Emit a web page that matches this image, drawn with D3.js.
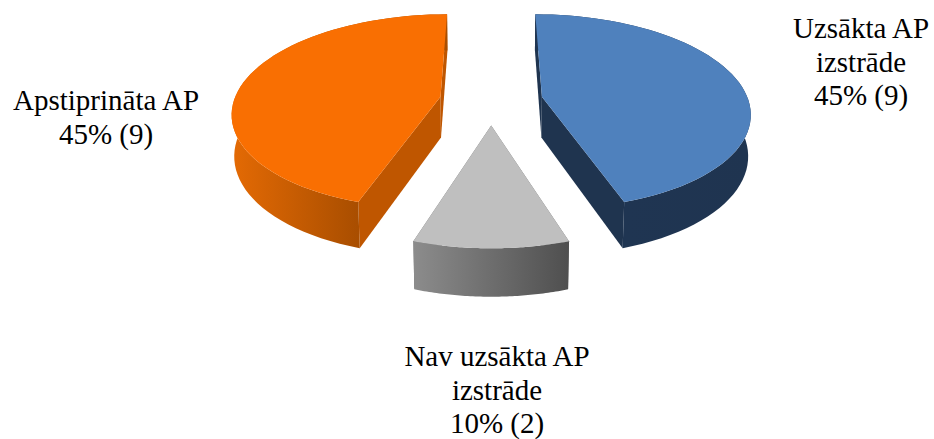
<!DOCTYPE html>
<html>
<head>
<meta charset="utf-8">
<script src="https://cdnjs.cloudflare.com/ajax/libs/d3/7.8.5/d3.min.js"></script>
<style>
  html, body { margin: 0; background: #fff; }
  text { font-family: "Liberation Serif", serif; font-size: 29px; fill: #000; }
</style>
</head>
<body>
<div id="vis"></div>
<script>
const FRAME_WIDTH = 934;
const FRAME_HEIGHT = 439;

// data, clockwise from the top of the pie
const categories = [["Uzsākta AP", "izstrāde"], ["Nav uzsākta AP", "izstrāde"], ["Apstiprināta AP"]];
const values = [9, 2, 9];
const topColors = ["#4f81bd", "#bfbfbf", "#f96f02"];
const cutColors = ["#1f344f", "#6e6e6e", "#bf5600"];
const rimLeft = ["#1f3552", "#8c8c8c", "#e46a04"];
const rimRight = ["#1f3450", "#4f4f4f", "#a94e00"];
const labelX = [861, 497, 106];
const labelY = [38, 366, 110];

// camera: pie radius is 1 in disc units, the perspective divides by w
const CX = 491.2, CY = 100.6;
const SCALE_X = 206.5, SCALE_Y = 96;
const TILT = 0.15;      // near side is larger
const DEPTH = 41.3;     // height of the wall
const DEPTH_W = 0.01;   // bottom face is a bit further away
const EXPLODE = 0.25;

const project = (u, v, z) => {
  const w = 1 - TILT * v + DEPTH_W * z;
  return [CX + SCALE_X * u / w, CY + (SCALE_Y * v + DEPTH * z) / w];
};

const FRAME = d3.select("#vis")
                .append("svg")
                  .attr("width", FRAME_WIDTH)
                  .attr("height", FRAME_HEIGHT);

const defs = FRAME.append("defs");
const line = d3.line();
const arcs = d3.pie().sort(null).startAngle(0).endAngle(2 * Math.PI)(values);

arcs.forEach((d, i) => {
  const mid = (d.startAngle + d.endAngle) / 2;
  const ox = EXPLODE * Math.sin(mid);
  const oy = -EXPLODE * Math.cos(mid);
  const angles = d3.range(0, 61).map((k) => d.startAngle + (d.endAngle - d.startAngle) * k / 60);

  const rim = (z) => angles.map((a) => project(ox + Math.sin(a), oy - Math.cos(a), z));
  const apex = (z) => project(ox, oy, z);
  const topRim = rim(0);
  const botRim = rim(1);

  const xs = topRim.map((p) => p[0]);
  const visible = topRim.filter((p, k) => Math.cos(angles[k]) < 0.1).map((p) => p[0]);
  const grad = defs.append("linearGradient")
                    .attr("id", "rim" + i)
                    .attr("gradientUnits", "userSpaceOnUse")
                    .attr("x1", d3.min(visible.length ? visible : xs))
                    .attr("x2", d3.max(visible.length ? visible : xs))
                    .attr("y1", 0).attr("y2", 0);
  grad.append("stop").attr("offset", 0).attr("stop-color", rimLeft[i]);
  grad.append("stop").attr("offset", 1).attr("stop-color", rimRight[i]);

  const g = FRAME.append("g").attr("class", "slice");

  // the two cut walls
  [0, angles.length - 1].forEach((k) => {
    g.append("path")
      .attr("d", line([apex(0), topRim[k], botRim[k], apex(1)]) + "Z")
      .attr("fill", cutColors[i]);
  });
  // outer wall
  g.append("path")
    .attr("d", line(topRim.concat(botRim.slice().reverse())) + "Z")
    .attr("fill", "url(#rim" + i + ")");
  // top face
  g.append("path")
    .attr("d", line([apex(0)].concat(topRim)) + "Z")
    .attr("fill", topColors[i]);
});

const total = d3.sum(values);
const pct = d3.format(".0%");

// labels
categories.forEach((lines, i) => {
  const t = FRAME.append("text")
                  .attr("text-anchor", "middle")
                  .attr("x", labelX[i])
                  .attr("y", labelY[i]);
  lines.concat([pct(values[i] / total) + " (" + values[i] + ")"]).forEach((s, k) => {
    t.append("tspan")
      .attr("x", labelX[i])
      .attr("dy", k === 0 ? 0 : 33.5)
      .text(s);
  });
});
</script>
</body>
</html>
